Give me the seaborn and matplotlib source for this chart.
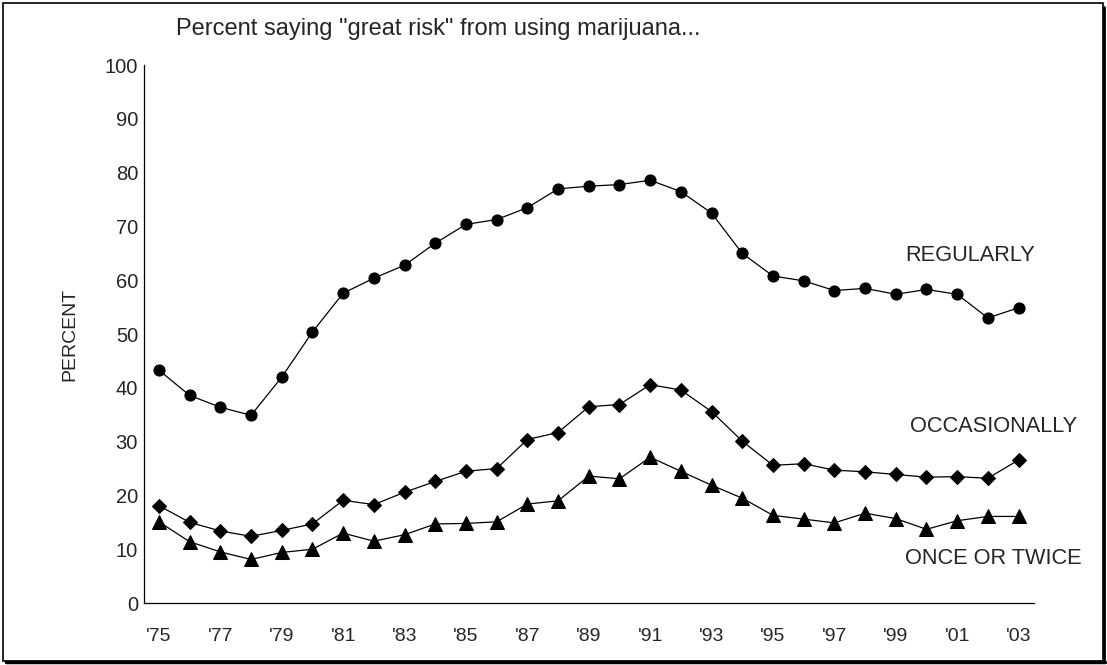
import numpy as np
import pandas as pd
import matplotlib
matplotlib.use("Agg")
import matplotlib.pyplot as plt
import seaborn as sns

# Data: percent of 12th graders saying "great risk", 1975-2003
years = list(range(1975, 2004))
year_labels = ["'" + str(y)[2:] for y in years]

regularly = [43.3, 38.6, 36.4, 34.9, 42.0, 50.4, 57.6, 60.4, 62.8, 66.9,
             70.4, 71.3, 73.5, 77.0, 77.5, 77.8, 78.6, 76.5, 72.5, 65.0,
             60.8, 59.9, 58.1, 58.5, 57.4, 58.3, 57.4, 53.0, 54.9]
occasionally = [18.1, 15.0, 13.4, 12.4, 13.5, 14.7, 19.1, 18.3, 20.6, 22.6,
                24.5, 25.0, 30.4, 31.7, 36.5, 36.9, 40.6, 39.6, 35.6, 30.1,
                25.6, 25.9, 24.7, 24.4, 23.9, 23.4, 23.5, 23.2, 26.6]
once_twice = [15.1, 11.4, 9.5, 8.1, 9.4, 10.0, 13.0, 11.5, 12.7, 14.7,
              14.8, 15.1, 18.4, 19.0, 23.6, 23.1, 27.1, 24.5, 21.9, 19.5,
              16.3, 15.6, 14.9, 16.7, 15.7, 13.7, 15.3, 16.1, 16.1]

sns.set_style("white")
plt.rcParams['font.family'] = ['Liberation Sans', 'DejaVu Sans']

fig = plt.figure(figsize=(11.07, 6.65), dpi=100)
ax = fig.add_axes([0.1297, 0.0932, 0.8043, 0.8088])

idx = np.arange(len(years))
series = [
    (regularly, 'o', 8),
    (occasionally, 'D', 7),
    (once_twice, '^', 10),
]
for vals, mk, ms in series:
    sns.lineplot(x=idx, y=vals, ax=ax, color='black', lw=0.9,
                 marker=mk, markersize=ms, markeredgecolor='black',
                 markerfacecolor='black')

# labels next to the lines
ax.text(24.3, 64.7, "REGULARLY", fontsize=15.7, va='center', ha='left')
ax.text(24.45, 32.8, "OCCASIONALLY", fontsize=15.7, va='center', ha='left')
ax.text(24.3, 8.2, "ONCE OR TWICE", fontsize=15.7, va='center', ha='left')

ax.set_xlim(-0.5, len(years) - 0.5)
ax.set_ylim(0, 100)
ax.set_yticks(range(0, 101, 10))
ax.set_xticks(idx[::2])
ax.set_xticklabels(year_labels[::2])
ax.set_xticks(np.arange(-0.5, len(years), 1), minor=True)
ax.tick_params(axis='x', which='major', length=0, labelsize=14, pad=18)
ax.tick_params(axis='x', which='minor', direction='in', length=6, width=0.8)
ax.tick_params(axis='y', direction='in', length=5, width=0.8, labelsize=14.5, pad=4)
ax.set_xlabel('')
ax.set_ylabel('PERCENT', fontsize=14, labelpad=19)

for s in ['top', 'right']:
    ax.spines[s].set_visible(False)
for s in ['left', 'bottom']:
    ax.spines[s].set_color('black')
    ax.spines[s].set_linewidth(0.9)
ax.grid(False)

fig.text(0.159, 0.957, 'Percent saying "great risk" from using marijuana...',
         fontsize=17, ha='left', va='center')

# outer border with a heavier bottom/right edge
fig.patches.append(plt.Rectangle((0.003, 0.006), 0.993, 0.99, transform=fig.transFigure,
                                 fill=False, edgecolor='black', lw=1.2))
fig.add_artist(plt.Line2D([0.005, 0.998], [0.004, 0.004], transform=fig.transFigure,
                          color='black', lw=2.5))
fig.add_artist(plt.Line2D([0.997, 0.997], [0.004, 0.99], transform=fig.transFigure,
                          color='black', lw=2.0))

fig.savefig('out.png', dpi=100)
